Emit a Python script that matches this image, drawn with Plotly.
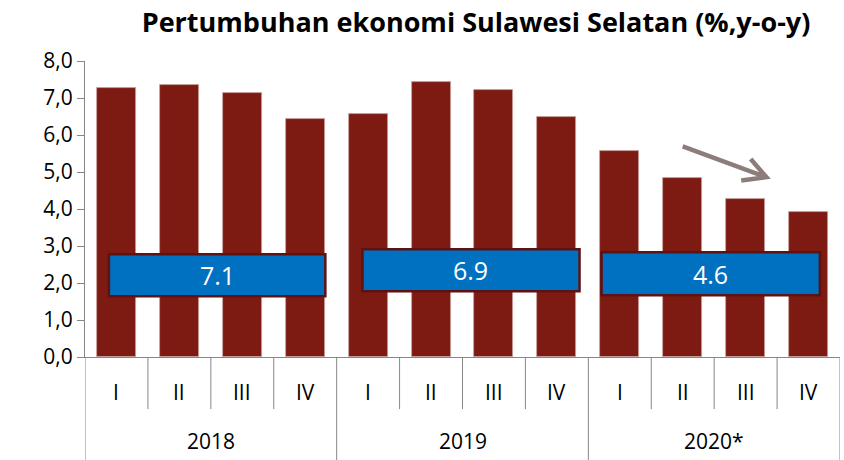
import plotly.graph_objects as go

years = ["2018", "2019", "2020*"]
quarters = ["I", "II", "III", "IV"]
growth = [7.28, 7.36, 7.14, 6.42, 6.58, 7.44, 7.22, 6.50, 5.58, 4.85, 4.26, 3.91]
annual_avg = ["7.1", "6.9", "4.6"]
y_ticks = [0, 1, 2, 3, 4, 5, 6, 7, 8]

FONT = "Open Sans"
BAR = "#7D1B13"
GRID = "#868686"

n = len(growth)
xs = list(range(n))

fig = go.Figure()
fig.add_trace(go.Bar(
    x=xs, y=growth, width=0.62,
    marker=dict(color=BAR, line=dict(color="#C9A19D", width=0.8)),
    hoverinfo="y",
))

shapes = []
annotations = []

# category separators
for i in range(n + 1):
    xb = i - 0.5
    is_year = (i % 4 == 0)
    shapes.append(dict(type="line", xref="x", yref="paper", x0=xb, x1=xb,
                       y0=0, y1=-0.348 if is_year else -0.176,
                       line=dict(color=GRID, width=1)))

# quarter labels
for i in range(n):
    annotations.append(dict(x=i, y=-0.118, xref="x", yref="paper", text=quarters[i % 4],
                            showarrow=False, font=dict(family=FONT, size=21, color="#000"),
                            yanchor="middle"))
# year labels
for k, yr in enumerate(years):
    annotations.append(dict(x=4 * k + 1.5, y=-0.285, xref="x", yref="paper", text=yr,
                            showarrow=False, font=dict(family=FONT, size=21, color="#000"),
                            yanchor="middle"))

# annual average boxes
boxes = [(-0.12, 3.32, 1.64, 2.78), (3.91, 7.36, 1.78, 2.91), (7.71, 11.18, 1.67, 2.83)]
for (x0, x1, y0, y1), txt in zip(boxes, annual_avg):
    shapes.append(dict(type="rect", xref="x", yref="y", x0=x0, x1=x1, y0=y0, y1=y1,
                       fillcolor="#0070C0", line=dict(color="#5E1212", width=2.5)))
    annotations.append(dict(x=(x0 + x1) / 2, y=(y0 + y1) / 2, xref="x", yref="y", text=txt,
                            showarrow=False, font=dict(family=FONT, size=25, color="white")))

# trend arrow
arrow_col = "#8C7D7A"
shapes.append(dict(type="path", xref="x", yref="y",
                   path="M 9.0,5.69 L 10.33,4.86 M 10.08,5.35 L 10.33,4.86 L 9.93,4.77",
                   line=dict(color=arrow_col, width=4.5)))

fig.update_layout(
    width=844, height=460,
    margin=dict(l=85, r=4, t=61, b=103),
    paper_bgcolor="white", plot_bgcolor="white",
    showlegend=False,
    bargap=0,
    separators=",.",
    title=dict(text="<b>Pertumbuhan ekonomi Sulawesi Selatan (%,y-o-y)</b>",
               x=0.564, xanchor="center", y=0.952, yanchor="middle",
               font=dict(family=FONT, size=27, color="#000")),
    xaxis=dict(range=[-0.5, n - 0.5], showticklabels=False, showgrid=False, zeroline=False,
               showline=True, linecolor=GRID, linewidth=1, ticks=""),
    yaxis=dict(range=[0, 8], tickvals=y_ticks, tickformat=".1f", showgrid=False,
               zeroline=False, showline=True, linecolor=GRID, linewidth=1,
               ticks="outside", ticklen=7, tickcolor=GRID,
               tickfont=dict(family=FONT, size=21, color="#000")),
    shapes=shapes,
    annotations=annotations,
)

fig.write_html("out.html", config={"displayModeBar": False},
               post_script="document.body.style.margin='0';document.body.style.overflow='hidden';")
